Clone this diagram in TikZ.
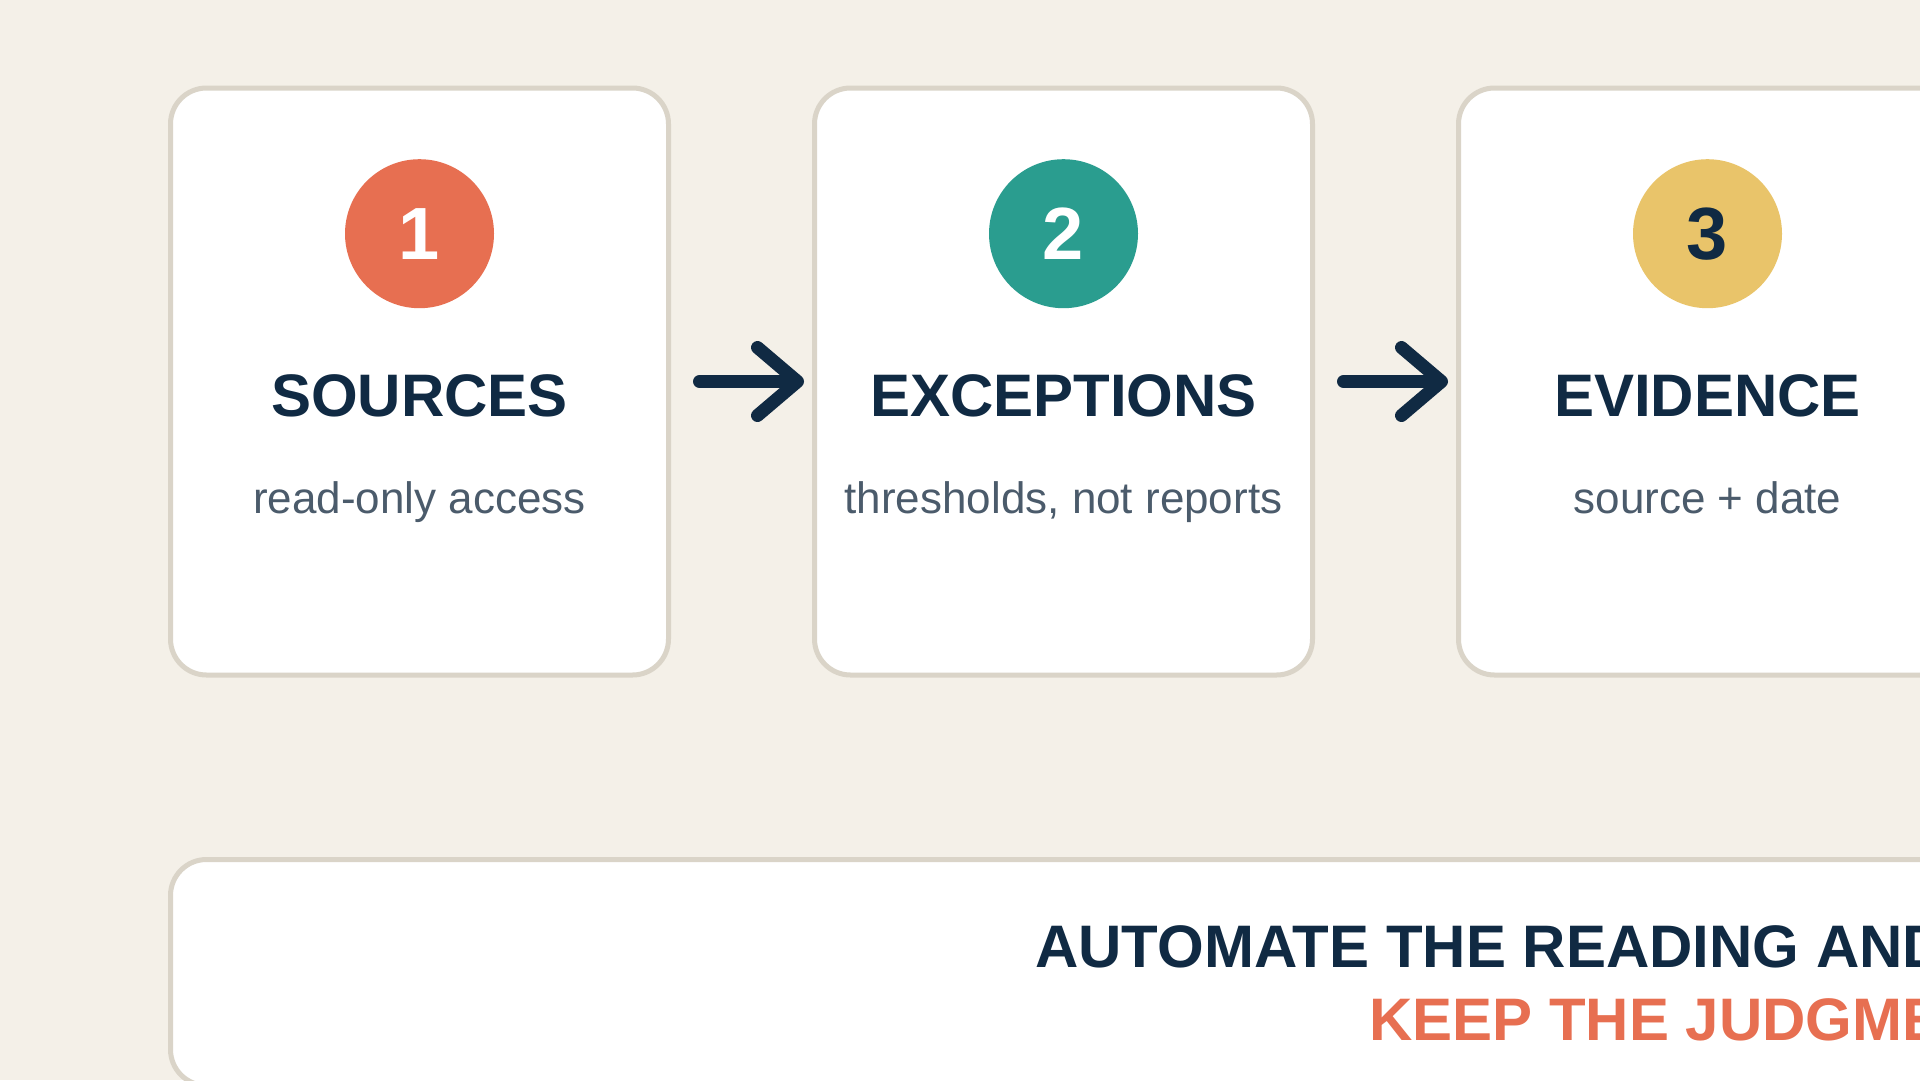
\documentclass[tikz,border=0pt]{standalone}
\usepackage{fontspec}
\setmainfont{Liberation Sans}
\usetikzlibrary{arrows.meta,positioning}
\definecolor{paper}{HTML}{F4F0E8}
\definecolor{rim}{HTML}{DAD4C8}
\definecolor{navy}{HTML}{102A43}
\definecolor{slate}{HTML}{4B5B6B}
\definecolor{coral}{HTML}{E76F51}
\definecolor{sea}{HTML}{2A9D8F}
\definecolor{saffron}{HTML}{E9C46A}

\begin{document}
\begin{tikzpicture}[x=1pt,y=-1pt,
  card/.style={draw=rim, line width=5pt, fill=white, rounded corners=36pt, minimum width=498pt, minimum height=587pt, outer sep=0pt},
  badge/.style={circle, minimum size=149pt, inner sep=0pt, font=\fontsize{74pt}{80pt}\selectfont\bfseries},
  heading/.style={text=navy, font=\fontsize{60pt}{72pt}\selectfont\bfseries, inner sep=0pt, anchor=base},
  note/.style={text=slate, font=\fontsize{44pt}{52pt}\selectfont, inner sep=0pt, anchor=base},
  flow/.style={draw=navy, line width=13pt, line cap=round, -{Straight Barb[length=40pt, width=68pt, round]}, shorten <=31pt, shorten >=10.5pt}]
\useasboundingbox (0,0) rectangle (1920,1080);
\fill[paper] (0,0) rectangle (1920,1080);
\clip (0,0) rectangle (1920,1080);

\node[card] (sources) at (419.5,381.5) {};
\node[card, right=146pt of sources] (exceptions) {};
\node[card, right=146pt of exceptions] (evidence) {};

\node[badge, fill=coral, text=white, below=71pt of sources.north] (one) {1};
\node[badge, fill=sea, text=white, below=71pt of exceptions.north] (two) {2};
\node[badge, fill=saffron, text=navy, below=71pt of evidence.north] (three) {3};

\node[heading] (sourcesT) at ([yshift=-328pt]sources.north) {SOURCES};
\node[heading] (exceptionsT) at ([yshift=-328pt]exceptions.north) {EXCEPTIONS};
\node[heading] (evidenceT) at ([yshift=-328pt]evidence.north) {EVIDENCE};

\node[note] (sourcesN) at ([yshift=-425pt]sources.north) {read-only access};
\node[note] (exceptionsN) at ([yshift=-425pt]exceptions.north) {thresholds, not reports};
\node[note] (evidenceN) at ([yshift=-425pt]evidence.north) {source + date};

\draw[flow] (sources.east) -- (exceptions.west);
\draw[flow] (exceptions.east) -- (evidence.west);

\node[card, minimum width=2600pt, minimum height=226pt, anchor=north west] (motto) at (170.5,859.5) {};
\node[heading, anchor=base west] (mottoA) at (1035,967) {AUTOMATE THE READING AND};
\node[heading, anchor=base west, text=coral] (mottoB) at (1369,1040) {KEEP THE JUDGMENT};
\end{tikzpicture}
\end{document}
